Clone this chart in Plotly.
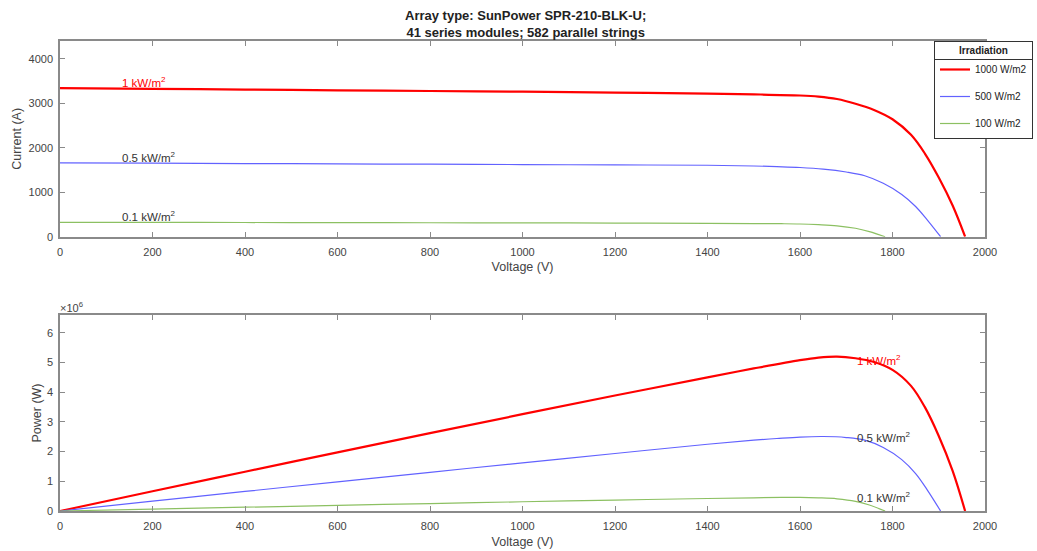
import plotly.graph_objects as go

# ---------------- data ----------------
series_names = ["1000 W/m2", "500 W/m2", "100 W/m2"]
label_text = ["1 kW/m<sup>2</sup>", "0.5 kW/m<sup>2</sup>", "0.1 kW/m<sup>2</sup>"]

v_1000 = [0, 200, 400, 600, 800, 1000, 1200, 1400, 1500, 1600, 1640, 1680, 1720, 1760, 1800, 1840, 1870, 1900, 1930, 1957]
i_1000 = [3340, 3325, 3308, 3292, 3276, 3260, 3240, 3215, 3200, 3175, 3150, 3095, 2990, 2850, 2640, 2290, 1870, 1330, 700, 0]
p_1000 = [0, 665000, 1323000, 1975000, 2621000, 3260000, 3888000, 4501000, 4800000, 5080000,
          5166000, 5200000, 5143000, 5016000, 4752000, 4214000, 3497000, 2527000, 1351000, 0]

v_500 = [0, 200, 400, 600, 800, 1000, 1200, 1400, 1500, 1550, 1600, 1650, 1700, 1740, 1780, 1820, 1850, 1875, 1904]
i_500 = [1659, 1652, 1645, 1637, 1630, 1622, 1614, 1606, 1590, 1575, 1556, 1520, 1455, 1370, 1200, 950, 680, 380, 0]
p_500 = [0, 330400, 658000, 982200, 1304000, 1622000, 1936800, 2248400, 2385000, 2441000,
         2490000, 2508000, 2474000, 2384000, 2136000, 1729000, 1258000, 712500, 0]

v_100 = [0, 200, 400, 600, 800, 1000, 1200, 1400, 1500, 1560, 1600, 1640, 1680, 1720, 1750, 1784]
i_100 = [323, 321, 319, 316, 314, 311, 307, 301, 296, 292, 286, 270, 245, 190, 115, 0]
p_100 = [0, 64200, 127600, 189600, 251200, 311000, 368400, 421400, 444000, 455520,
         457600, 442800, 411600, 326800, 201250, 0]

# label anchor points (data coords)
top_label_v = 130
top_label_i = [3335, 1657, 322]
bot_label_v = 1719
bot_label_p = [5080000, 2500000, 460000]

x_ticks = list(range(0, 2001, 200))
i_ticks = [0, 1000, 2000, 3000, 4000]
p_ticks = [0, 1e6, 2e6, 3e6, 4e6, 5e6, 6e6]
p_tick_text = ["0", "1", "2", "3", "4", "5", "6"]

# ---------------- styling ----------------
W, H = 1037, 551
colors = ["#ff0000", "#6262ff", "#8cc062"]
widths = [2.2, 1.2, 1.2]
FONT = "Liberation Sans, Arial, sans-serif"
AX = "#8a8a8a"
TXT = "#444444"

def px_x(p):
    return p / W

def px_y(p):
    return 1 - p / H

fig = go.Figure()
V = [v_1000, v_500, v_100]
I = [i_1000, i_500, i_100]
P = [p_1000, p_500, p_100]
for k in range(3):
    fig.add_trace(go.Scatter(x=V[k], y=I[k], mode="lines", name=series_names[k],
                             line=dict(color=colors[k], width=widths[k], shape="spline", smoothing=1.0),
                             legendgroup=f"g{k}", xaxis="x", yaxis="y", hoverinfo="skip"))
    fig.add_trace(go.Scatter(x=V[k], y=P[k], mode="lines", name=series_names[k], showlegend=False,
                             line=dict(color=colors[k], width=widths[k], shape="spline", smoothing=1.0),
                             legendgroup=f"g{k}", xaxis="x2", yaxis="y2", hoverinfo="skip"))

axis_common = dict(showline=True, linecolor=AX, linewidth=1.5, mirror="allticks",
                   ticks="inside", ticklen=5, tickcolor=AX, tickwidth=1,
                   showgrid=False, zeroline=False, automargin=False,
                   tickfont=dict(family=FONT, size=11, color=TXT))
TITLE_FONT = dict(family=FONT, size=12.5, color=TXT)

xd = [px_x(60), px_x(985)]
fig.update_layout(
    width=W, height=H,
    margin=dict(l=0, r=0, t=0, b=0, autoexpand=False),
    paper_bgcolor="white", plot_bgcolor="white",
    font=dict(family=FONT, color=TXT),
    xaxis=dict(domain=xd, range=[0, 2000], tickvals=x_ticks, anchor="y", ticklabelstandoff=4,
               title=dict(text="Voltage (V)", font=TITLE_FONT, standoff=6),
               **axis_common),
    yaxis=dict(domain=[px_y(236.7), px_y(41)], range=[0, 4400], tickvals=i_ticks, anchor="x",
               ticklabelstandoff=3,
               title=dict(text="Current (A)", font=TITLE_FONT, standoff=4),
               **axis_common),
    xaxis2=dict(domain=xd, range=[0, 2000], tickvals=x_ticks, anchor="y2", ticklabelstandoff=4,
                title=dict(text="Voltage (V)", font=TITLE_FONT, standoff=6),
                **axis_common),
    yaxis2=dict(domain=[px_y(511), px_y(315)], range=[0, 6.6e6], tickvals=p_ticks, ticktext=p_tick_text,
                anchor="x2", ticklabelstandoff=3,
                title=dict(text="Power (W)", font=TITLE_FONT, standoff=3),
                **axis_common),
    legend=dict(x=px_x(1033), y=px_y(41), xanchor="right", yanchor="top",
                bgcolor="white", bordercolor="#333333", borderwidth=1,
                font=dict(family=FONT, size=10, color="#222222"),
                title=dict(text="<b>Irradiation</b>", side="top center",
                           font=dict(family=FONT, size=10, color="#222222")),
                tracegroupgap=8, itemwidth=30),
    showlegend=True,
)

# title as annotation (two lines)
fig.add_annotation(x=px_x(525), y=px_y(6), xref="paper", yref="paper",
                   text="<b>Array type: SunPower SPR-210-BLK-U;<br>41 series modules; 582 parallel strings</b>",
                   showarrow=False, xanchor="center", yanchor="top", align="center",
                   font=dict(family=FONT, size=13, color="#222222"))

# legend title box (gives the separator line under "Irradiation")
fig.add_annotation(x=px_x(1033), y=px_y(41), xref="paper", yref="paper",
                   text="<b>Irradiation</b>", showarrow=False, xanchor="right", yanchor="top",
                   width=97, height=17, borderpad=0, bgcolor="white",
                   bordercolor="#333333", borderwidth=1, align="center", valign="middle",
                   font=dict(family=FONT, size=10, color="#222222"))

# curve labels
for k in range(3):
    fig.add_annotation(x=top_label_v, y=top_label_i[k], xref="x", yref="y",
                       text=label_text[k], showarrow=False, xanchor="left", yanchor="bottom",
                       yshift=-3, font=dict(family=FONT, size=11.5,
                                            color=colors[0] if k == 0 else "#333333"))
    fig.add_annotation(x=bot_label_v, y=bot_label_p[k], xref="x2", yref="y2",
                       text=label_text[k], showarrow=False, xanchor="left", yanchor="middle",
                       font=dict(family=FONT, size=11.5,
                                 color=colors[0] if k == 0 else "#333333"))

# exponent label
fig.add_annotation(x=px_x(58), y=px_y(316), xref="paper", yref="paper", text="×10<sup>6</sup>",
                   showarrow=False, xanchor="left", yanchor="bottom",
                   font=dict(family=FONT, size=11, color=TXT))

fig.write_html("out.html")
